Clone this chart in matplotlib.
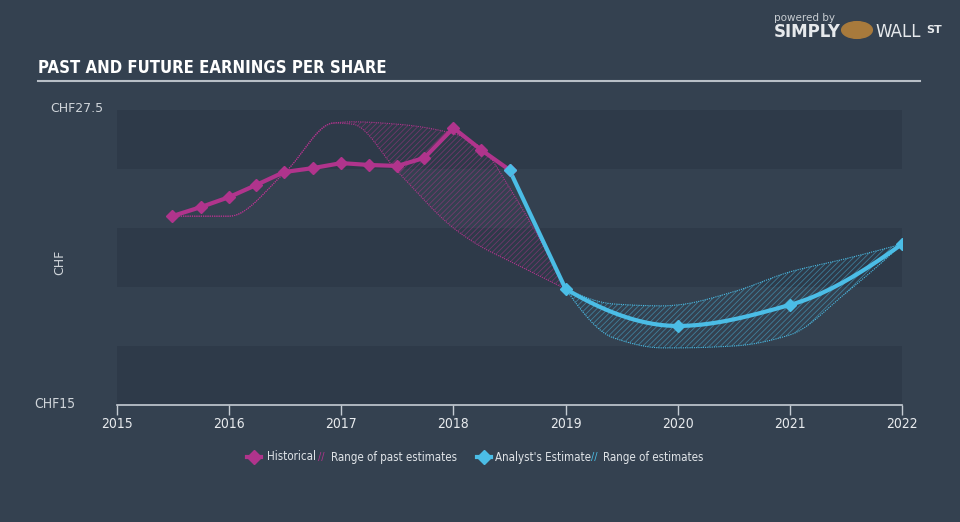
import matplotlib
matplotlib.use('Agg')
import matplotlib.pyplot as plt
import numpy as np

# historical EPS (CHF)
hist_x = [2015.49, 2015.75, 2016.0, 2016.24, 2016.49, 2016.75, 2017.0, 2017.25,
          2017.5, 2017.74, 2018.0, 2018.25, 2018.5]
hist_y = [23.0, 23.39, 23.81, 24.32, 24.87, 25.04, 25.25, 25.17, 25.13, 25.47,
          26.74, 25.8, 24.96]

# analyst estimate
est_x = [2018.5, 2019.0, 2020.0, 2021.0, 2022.0]
est_y = [24.96, 19.92, 18.35, 19.24, 21.82]

# range of past estimates
past_x = [2015.49, 2016.0, 2016.5, 2016.93, 2017.1, 2017.5, 2018.0, 2018.25, 2018.5, 2019.0]
past_hi = [23.0, 23.0, 24.87, 26.95, 27.0, 26.9, 26.5, 25.9, 24.2, 19.92]
past_lo = [23.0, 23.0, 24.87, 26.95, 26.9, 24.9, 22.5, 21.7, 21.1, 19.92]

# range of future estimates
fut_x = [2019.0, 2019.43, 2019.87, 2020.0, 2020.5, 2021.0, 2021.5, 2022.0]
fut_hi = [19.92, 19.28, 19.2, 19.24, 19.8, 20.64, 21.2, 21.82]
fut_lo = [19.92, 17.84, 17.42, 17.42, 17.5, 17.97, 19.75, 21.82]

BG = '#344150'
BAND = '#2e3a49'
MAG = '#b0348c'
CYAN = '#4bbde6'
NARROW = dict(fontfamily='DejaVu Sans', fontstretch='condensed')


def smooth(x, y, n=200):
    # monotone cubic (pchip) for drawing smooth curves
    x = np.asarray(x, float)
    y = np.asarray(y, float)
    h = np.diff(x)
    d = np.diff(y) / h
    m = np.zeros_like(y)
    for k in range(1, len(x) - 1):
        if d[k - 1] * d[k] > 0:
            w1 = 2 * h[k] + h[k - 1]
            w2 = h[k] + 2 * h[k - 1]
            m[k] = (w1 + w2) / (w1 / d[k - 1] + w2 / d[k])
    m[0] = ((2 * h[0] + h[1]) * d[0] - h[0] * d[1]) / (h[0] + h[1])
    m[-1] = ((2 * h[-1] + h[-2]) * d[-1] - h[-1] * d[-2]) / (h[-1] + h[-2])
    if m[0] * d[0] <= 0:
        m[0] = 0
    if m[-1] * d[-1] <= 0:
        m[-1] = 0
    xs = np.linspace(x[0], x[-1], n)
    idx = np.clip(np.searchsorted(x, xs) - 1, 0, len(x) - 2)
    t = (xs - x[idx]) / h[idx]
    h00 = 2 * t**3 - 3 * t**2 + 1
    h10 = t**3 - 2 * t**2 + t
    h01 = -2 * t**3 + 3 * t**2
    h11 = t**3 - t**2
    ys = h00 * y[idx] + h10 * h[idx] * m[idx] + h01 * y[idx + 1] + h11 * h[idx] * m[idx + 1]
    return xs, ys


def make_graph():
    plt.rcParams['hatch.linewidth'] = 0.6
    fig = plt.figure(figsize=(9.6, 5.22), dpi=100, facecolor=BG)
    ax = fig.add_axes([117 / 960, 1 - 405 / 522, 785 / 960, 295 / 522])
    ax.set_facecolor(BG)
    ax.set_xlim(2015, 2022)
    ax.set_ylim(15, 27.5)

    for lo in [15, 20, 25]:
        ax.axhspan(lo, lo + 2.5, color=BAND, lw=0, zorder=0)

    # past range
    px, ph = smooth(past_x, past_hi)
    _, pl = smooth(past_x, past_lo)
    ax.fill_between(px, pl, ph, facecolor='none', edgecolor=MAG, hatch='//////',
                    lw=0, alpha=0.5, zorder=1)
    ax.plot(px, ph, color=MAG, lw=0.8, ls=(0, (1, 1)), zorder=2)
    ax.plot(px, pl, color=MAG, lw=0.8, ls=(0, (1, 1)), zorder=2)

    # future range
    fx, fh = smooth(fut_x, fut_hi)
    _, fl = smooth(fut_x, fut_lo)
    ax.fill_between(fx, fl, fh, facecolor='none', edgecolor=CYAN, hatch='//////',
                    lw=0, alpha=0.5, zorder=1)
    ax.plot(fx, fh, color=CYAN, lw=0.8, ls=(0, (1, 1)), zorder=2)
    ax.plot(fx, fl, color=CYAN, lw=0.8, ls=(0, (1, 1)), zorder=2)

    # historical line
    ax.plot(hist_x, hist_y, color=MAG, lw=3, zorder=4, solid_joinstyle='round')
    ax.plot(hist_x, hist_y, ls='none', marker='D', ms=6.5, color=MAG, zorder=5)

    # analyst estimate
    ax.plot(est_x[:2], est_y[:2], color=CYAN, lw=3, zorder=4)
    sx, sy = smooth(est_x[1:], est_y[1:])
    ax.plot(sx, sy, color=CYAN, lw=3, zorder=4)
    ax.plot(est_x, est_y, ls='none', marker='D', ms=6.5, color=CYAN, zorder=6)

    for s in ['top', 'right', 'left']:
        ax.spines[s].set_visible(False)
    ax.spines['bottom'].set_color('#c5ccd4')
    ax.spines['bottom'].set_linewidth(1.2)
    ax.set_xticks(range(2015, 2023))
    ax.set_xticklabels([str(y) for y in range(2015, 2023)], fontsize=10,
                       color='#e8ebee', **NARROW)
    ax.tick_params(axis='x', length=7, width=1, color='#c5ccd4', pad=2)
    ax.set_yticks([])

    fig.text(103 / 960, 1 - 108 / 522, 'CHF27.5', ha='right', va='center',
             fontsize=9, color='#d0d5da')
    fig.text(75 / 960, 1 - 404 / 522, 'CHF15', ha='right', va='center',
             fontsize=10, color='#d0d5da', **NARROW)
    fig.text(60 / 960, 1 - 262 / 522, 'CHF', ha='center', va='center', rotation=90,
             fontsize=9, color='#d0d5da')

    # title and rule
    fig.text(38 / 960, 1 - 68 / 522, 'PAST AND FUTURE EARNINGS PER SHARE', ha='left',
             va='center', fontsize=12, fontweight='bold', color='white', **NARROW)
    fig.add_artist(plt.Line2D([38 / 960, 920 / 960], [1 - 81 / 522, 1 - 81 / 522],
                              color='#b8bfc7', lw=1.5))

    # logo
    fig.text(835 / 960, 1 - 18 / 522, 'powered by', ha='right', va='center',
             fontsize=7.5, color='#c8cdd2')
    fig.text(841 / 960, 1 - 32 / 522, 'SIMPLY', ha='right', va='center',
             fontsize=12, fontweight='bold', color='#e6e9ec')
    fig.add_artist(matplotlib.patches.Circle((857 / 960, 1 - 30 / 522), 0.016,
                                             transform=fig.transFigure,
                                             color='#a87a3c', zorder=3))
    fig.text(875 / 960, 1 - 32 / 522, 'WALL', ha='left', va='center',
             fontsize=12, color='#e6e9ec')
    fig.text(926 / 960, 1 - 30 / 522, 'ST', ha='left', va='center',
             fontsize=8, fontweight='bold', color='#e6e9ec')

    # legend
    ly = 1 - 457 / 522
    for x, c in [(254, MAG), (484, CYAN)]:
        fig.add_artist(plt.Line2D([(x - 7) / 960, (x + 7) / 960], [ly, ly], color=c,
                                  lw=3, transform=fig.transFigure))
        fig.add_artist(plt.Line2D([x / 960], [ly], color=c, marker='D', ms=7,
                                  transform=fig.transFigure))
    for x, c in [(318, MAG), (591, CYAN)]:
        fig.text(x / 960, ly, '//', ha='left', va='center', fontsize=7, color=c)
    for x, label in [(267, 'Historical'), (331, 'Range of past estimates'),
                     (495, "Analyst's Estimate"), (603, 'Range of estimates')]:
        fig.text(x / 960, ly, label, ha='left', va='center', fontsize=8.3,
                 color='#e0e4e8', **NARROW)

    fig.savefig('out.png', dpi=100, facecolor=BG)


if __name__ == '__main__':
    make_graph()
